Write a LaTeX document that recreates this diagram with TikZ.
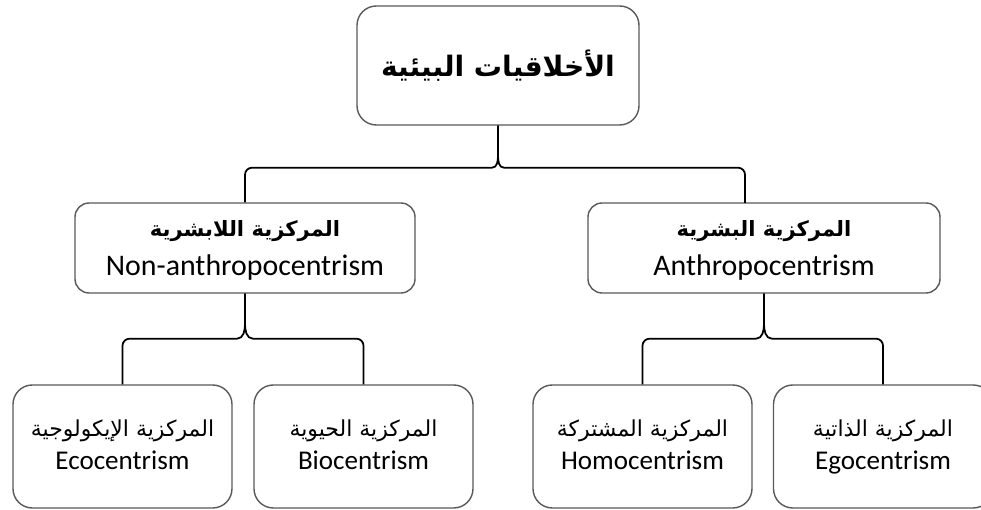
\documentclass[tikz,border=0pt]{standalone}
\usepackage{fontspec}
\setmainfont{Carlito}
\newfontfamily\arabicfont[Script=Arabic]{DejaVu Sans}
\TeXXeTstate=1
\usepackage{tikz}
\usetikzlibrary{positioning,calc}

\begin{document}
\begin{tikzpicture}[
    box/.style={rectangle, draw=black!65, line width=0.8pt, fill=white, align=center},
    rootbox/.style={box, rounded corners=11pt, minimum width=5.64cm, minimum height=2.38cm},
    branch/.style={box, rounded corners=8pt, minimum width=6.8cm, minimum height=1.8cm, font=\fontsize{17}{22}\selectfont},
    leaf/.style={box, rounded corners=11pt, minimum width=4.38cm, minimum height=2.46cm, font=\fontsize{15.4}{19}\selectfont},
    link/.style={draw=black, line width=1pt}
]
    \useasboundingbox (0,0) rectangle (19.62,10.2);

    % Root
    \node[rootbox, font=\fontsize{16}{20}\selectfont] (ethics) at (9.96,8.89) {\arabicfont\bfseries\beginR الأخلاقيات البيئية\endR};

    % Two main branches
    \node[branch] (nonanthro) at (4.9,5.24) {{\arabicfont\bfseries\fontsize{12}{22}\selectfont\beginR المركزية اللابشرية\endR\strut}\\Non-anthropocentrism\strut};
    \node[branch, minimum width=7.04cm] (anthro) at (15.28,5.24) {{\arabicfont\bfseries\fontsize{12}{22}\selectfont\beginR المركزية البشرية\endR\strut}\\Anthropocentrism\strut};

    % Leaves
    \node[leaf] (eco) at (2.45,1.27) {{\arabicfont\fontsize{12.5}{19}\selectfont\beginR المركزية الإيكولوجية\endR\strut}\\Ecocentrism\strut};
    \node[leaf] (bio) at (7.27,1.27) {{\arabicfont\fontsize{12.5}{19}\selectfont\beginR المركزية الحيوية\endR\strut}\\Biocentrism\strut};
    \node[leaf] (homo) at (12.85,1.27) {{\arabicfont\fontsize{12.5}{19}\selectfont\beginR المركزية المشتركة\endR\strut}\\Homocentrism\strut};
    \node[leaf] (ego) at (17.66,1.27) {{\arabicfont\fontsize{12.5}{19}\selectfont\beginR المركزية الذاتية\endR\strut}\\Egocentrism\strut};

    % brace end on the right branch (off centre)
    \coordinate (anthroarm) at (14.9,6.14);

    % Braces from root
    \draw[link] (ethics.south) -- ++(0,-0.6) to[out=-90,in=0] ++(-0.12,-0.24) [rounded corners=4pt] -| (nonanthro.north);
    \draw[link] (ethics.south) -- ++(0,-0.6) to[out=-90,in=180] ++(0.12,-0.24) [rounded corners=4pt] -| (anthroarm);

    % Braces from branches
    \draw[link] (nonanthro.south) -- ++(0,-0.6) to[out=-90,in=0] ++(-0.16,-0.3) [rounded corners=4pt] -| (eco.north);
    \draw[link] (nonanthro.south) -- ++(0,-0.6) to[out=-90,in=180] ++(0.16,-0.3) [rounded corners=4pt] -| (bio.north);
    \draw[link] (anthro.south) -- ++(0,-0.6) to[out=-90,in=0] ++(-0.16,-0.3) [rounded corners=4pt] -| (homo.north);
    \draw[link] (anthro.south) -- ++(0,-0.6) to[out=-90,in=180] ++(0.16,-0.3) [rounded corners=4pt] -| (ego.north);
\end{tikzpicture}
\end{document}
